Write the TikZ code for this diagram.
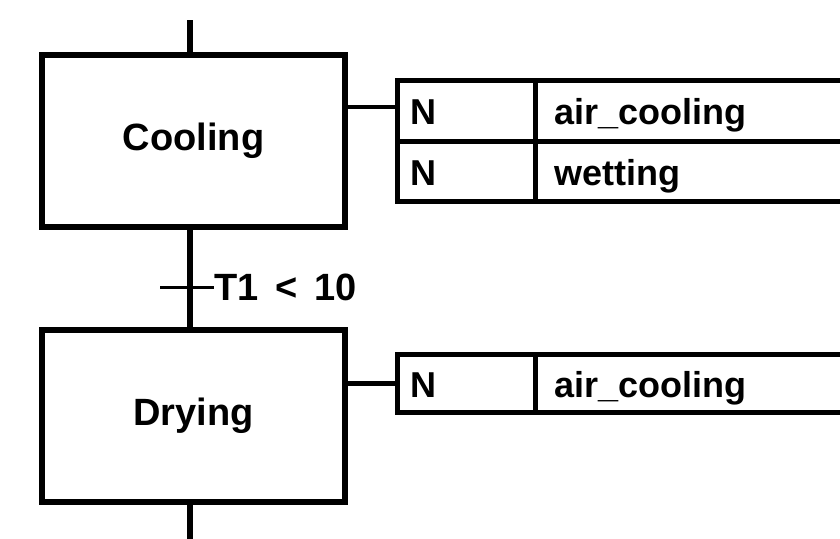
\documentclass[tikz,border=0pt]{standalone}
\usepackage{fontspec}
\setmainfont{Liberation Sans}
\usetikzlibrary{calc}
\begin{document}
\begin{tikzpicture}[x=1pt,y=-1pt,
  stepbox/.style={draw,line width=6pt,rectangle,minimum width=303pt,minimum height=172pt,inner sep=0pt,
    font=\fontsize{38}{40}\selectfont\bfseries},
  cell/.style={draw,line width=5pt,rectangle,anchor=north west,outer sep=0pt,inner ysep=0pt,
    text height=27pt,text depth=-4pt,align=left,font=\fontsize{36}{38}\selectfont\bfseries},
  qualcell/.style={cell,minimum height=60pt,text width=112pt,inner xsep=13pt},
  namecell/.style={cell,minimum height=60pt,text width=380pt,inner xsep=19pt},
  link/.style={line width=6pt},
  branch/.style={line width=4.5pt},
  tbar/.style={line width=3pt},
  tlabel/.style={anchor=west,inner sep=0pt,font=\fontsize{38}{40}\selectfont\bfseries}]
\path[use as bounding box,clip] (0,0) rectangle (840,538);
% steps
\node[stepbox] (cool) at (193.5,141) {Cooling};
\node[stepbox] (dry) at (193.5,416) {Drying};
% actions of Cooling
\node[qualcell,minimum height=61pt] (q1) at (397.5,80.5) {N};
\node[namecell,minimum height=61pt] (a1) at (q1.north east) {air\_cooling};
\node[qualcell,minimum height=60pt] (q2) at (q1.south west) {N};
\node[namecell,minimum height=60pt] (a2) at (q2.north east) {wetting};
% actions of Drying
\node[qualcell,minimum height=58pt] (q3) at (397.5,354.5) {N};
\node[namecell,minimum height=58pt] (a3) at (q3.north east) {air\_cooling};
% flow line
\coordinate (top) at (190,20);
\coordinate (bot) at (190,545);
\coordinate (tl) at (160,287);
\coordinate (tr) at (214,287);
\draw[link] (top) -- (top |- cool.north);
\draw[link] (top |- cool.south) -- (top |- dry.north);
\draw[link] (top |- dry.south) -- (bot);
\draw[tbar] (tl) -- (tr);
\node[tlabel] (tc) at (tr) {T1\hspace{17pt}<\hspace{17pt}10};
% action links
\draw[branch] (cool.east |- 0,107) -- (q1.west |- 0,107);
\draw[branch] (dry.east |- q3.west) -- (q3.west);
\end{tikzpicture}
\end{document}
